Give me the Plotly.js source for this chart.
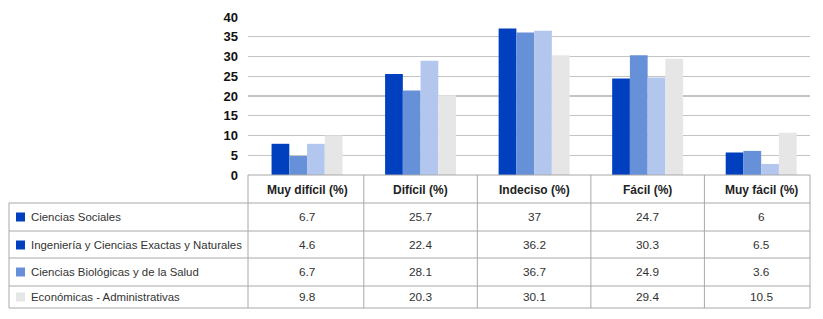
<!DOCTYPE html>
<html>
<head>
<meta charset="utf-8">
<script src="https://cdn.plot.ly/plotly-3.0.1.min.js"></script>
<style>html,body{margin:0;padding:0;background:#fff;}#chart{width:823px;height:319px;}</style>
</head>
<body>
<div id="chart"></div>
<script>
// ---- data ----
const categories = ["Muy difícil (%)", "Difícil (%)", "Indeciso (%)", "Fácil (%)", "Muy fácil (%)"];
const seriesNames = ["Ciencias Sociales", "Ingeniería y Ciencias Exactas y Naturales", "Ciencias Biológicas y de la Salud", "Económicas - Administrativas"];
// bar heights as drawn in the chart
const barsSociales   = [7.9, 25.6, 37.1, 24.4, 5.7];
const barsIngenieria = [4.8, 21.4, 36.1, 30.3, 6.1];
const barsBiologicas = [7.9, 28.9, 36.5, 24.7, 2.8];
const barsEconomicas = [10.0, 20.2, 30.3, 29.4, 10.7];
// values printed in the data table
const tableSociales   = ["6.7", "25.7", "37", "24.7", "6"];
const tableIngenieria = ["4.6", "22.4", "36.2", "30.3", "6.5"];
const tableBiologicas = ["6.7", "28.1", "36.7", "24.9", "3.6"];
const tableEconomicas = ["9.8", "20.3", "30.1", "29.4", "10.5"];
const yTicks = [0, 5, 10, 15, 20, 25, 30, 35, 40];

// ---- styling ----
const barColors = ["#0040BF", "#6690D8", "#B3C7EE", "#E6E6E6"];
const swatchColors = ["#0040BF", "#0040BF", "#6690D8", "#E6E6E6"];
const FONT = "Liberation Sans, Arial, sans-serif";
const W = 823, H = 319;
const M = {l: 248, r: 13, t: 17, b: 144};
const plotW = W - M.l - M.r, plotH = H - M.t - M.b;
const px = x => (x - M.l) / plotW;          // pixel -> paper x
const py = y => (H - M.b - y) / plotH;      // pixel -> paper y

const barSeries = [barsSociales, barsIngenieria, barsBiologicas, barsEconomicas];
const tableSeries = [tableSociales, tableIngenieria, tableBiologicas, tableEconomicas];
const idx = categories.map((c, i) => i);

const traces = barSeries.map((vals, s) => ({
  type: "bar", x: idx, y: vals, name: seriesNames[s],
  marker: {color: barColors[s], line: {width: 0}}, hoverinfo: "skip"
}));

const rowEdges = [175, 203, 231, 258, 286, 308];
const rowCenters = [190, 217, 245, 272, 297];
const tableLeft = 9, tableRight = 810, headLeft = 248;
const borderCol = "#A8A8A8";
const shapes = [];
const annotations = [];
function hline(y, x0, x1) {
  shapes.push({type: "line", xref: "paper", yref: "paper", x0: px(x0), x1: px(x1), y0: py(y), y1: py(y), line: {color: borderCol, width: 1}});
}
function vlinePx(x, y0, y1) {
  shapes.push({type: "line", xref: "paper", yref: "paper", x0: px(x), x1: px(x), y0: py(y0), y1: py(y1), line: {color: borderCol, width: 1}});
}
hline(rowEdges[0], headLeft, tableRight);
for (let r = 1; r < rowEdges.length; r++) hline(rowEdges[r], tableLeft, tableRight);
vlinePx(tableLeft, rowEdges[1], rowEdges[5]);
vlinePx(headLeft, rowEdges[0], rowEdges[5]);
vlinePx(tableRight, rowEdges[0], rowEdges[5]);
for (let k = 0; k < categories.length - 1; k++) {
  shapes.push({type: "line", xref: "x", yref: "paper", x0: k + 0.5, x1: k + 0.5, y0: py(rowEdges[0]), y1: py(rowEdges[5]), line: {color: borderCol, width: 1}});
}
// header labels
categories.forEach((c, k) => {
  annotations.push({xref: "x", yref: "paper", x: k, y: py(rowCenters[0]), text: "<b>" + c + "</b>", showarrow: false,
    xanchor: "center", yanchor: "middle", font: {family: FONT, size: 12, color: "#222"}});
});
// rows
seriesNames.forEach((n, s) => {
  const yc = rowCenters[s + 1];
  shapes.push({type: "rect", xref: "paper", yref: "paper", x0: px(16), x1: px(25), y0: py(yc - 4.5), y1: py(yc + 4.5), line: {width: 0}, fillcolor: swatchColors[s]});
  annotations.push({xref: "paper", yref: "paper", x: px(29), y: py(yc), text: n, showarrow: false,
    xanchor: "left", yanchor: "middle", font: {family: FONT, size: 11.4, color: "#333"}});
  tableSeries[s].forEach((v, k) => {
    annotations.push({xref: "x", yref: "paper", x: k, y: py(yc), text: v, showarrow: false,
      xanchor: "center", yanchor: "middle", font: {family: FONT, size: 11.8, color: "#333"}});
  });
});

const layout = {
  width: W, height: H, margin: M, paper_bgcolor: "#fff", plot_bgcolor: "#fff",
  barmode: "group", bargap: 0.375, bargroupgap: 0, showlegend: false,
  xaxis: {range: [-0.52, 4.43], showticklabels: false, showgrid: false, zeroline: false, showline: false, ticks: ""},
  yaxis: {range: [0, 40], tickvals: yTicks, ticktext: yTicks.map(v => "<b>" + v + "</b>"),
    showgrid: true, gridcolor: "#C4C4C4", gridwidth: 1.2, zeroline: false, showline: false, ticks: "",
    ticklabelstandoff: 9, tickfont: {family: FONT, size: 13, color: "#111"}},
  shapes: shapes, annotations: annotations
};
Plotly.newPlot("chart", traces, layout, {staticPlot: true, displayModeBar: false});
</script>
</body>
</html>
